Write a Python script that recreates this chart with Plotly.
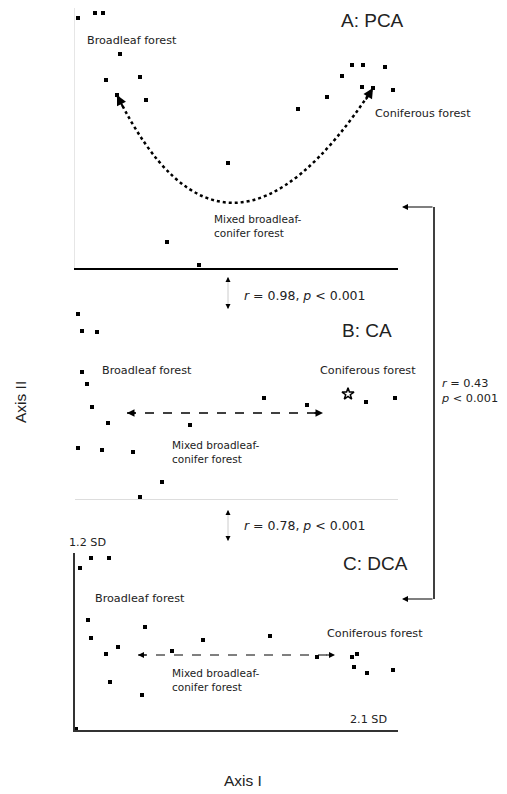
import plotly.graph_objects as go

W, H = 507, 794
OFF = 8  # page body margin in the browser

# ---- Data (ordination scores, arbitrary units) ----
pca_x = [3, 20, 28, 45, 31, 65, 42, 71, 153, 92, 124, 223, 252, 267, 277, 288, 310, 287, 298, 318]
pca_y = [250, 255, 255, 214, 188, 191, 173, 168, 105, 26, 3, 159, 171, 192, 203, 203, 201, 181, 180, 178]

ca_x = [3, 7, 22, 7, 12, 17, 33, 3, 27, 58, 87, 65, 115, 189, 232, 291, 320]
ca_y = [185, 168, 167, 127, 115, 92, 76, 51, 49, 47, 17, 2, 74, 101, 94, 97, 101]
ca_star_x = [273]
ca_star_y = [105]

dca_x = [5, 16, 34, 13, 16, 43, 31, 35, 67, 70, 97, 128, 195, 242, 277, 282, 279, 292, 318, 1]
dca_y = [162, 172, 172, 110, 92, 83, 76, 48, 35, 103, 79, 90, 94, 73, 73, 76, 63, 57, 60, 1]

# gradient arrows (start, control/end) in score units
pca_arc = [(42, 173), (150, -46), (298, 180)]
ca_arrow = [(52, 86), (248, 86)]
dca_arrow = [(63, 75), (260, 75)]

panel_titles = ["A: PCA", "B: CA", "C: DCA"]
stats = ["<i>r</i> = 0.98, <i>p</i> &lt; 0.001", "<i>r</i> = 0.78, <i>p</i> &lt; 0.001",
         "<i>r</i> = 0.43<br><i>p</i> &lt; 0.001"]

FONT = "Liberation Sans, Arial, sans-serif"
WIDE = "DejaVu Sans, sans-serif"
TXT = "#222"
LBL = 11.2

def px(x):
    return (x - OFF) / W

def py(y):
    return 1 - (y - OFF) / H

fig = go.Figure()

mk = dict(symbol="square", size=4, color="black")
fig.add_trace(go.Scatter(x=pca_x, y=pca_y, mode="markers", marker=mk, xaxis="x", yaxis="y", showlegend=False))
fig.add_trace(go.Scatter(x=ca_x, y=ca_y, mode="markers", marker=mk, xaxis="x2", yaxis="y2", showlegend=False))
fig.add_trace(go.Scatter(x=ca_star_x, y=ca_star_y, mode="markers",
                         marker=dict(symbol="star-open", size=9, color="black", line=dict(width=1.5)),
                         xaxis="x2", yaxis="y2", showlegend=False))
fig.add_trace(go.Scatter(x=dca_x, y=dca_y, mode="markers", marker=mk, xaxis="x3", yaxis="y3", showlegend=False))

xdom = [px(75), px(398)]
ax_common = dict(showgrid=False, zeroline=False, showticklabels=False, ticks="", fixedrange=True)
fig.update_layout(
    width=W, height=H, margin=dict(l=0, r=0, t=0, b=0),
    paper_bgcolor="white", plot_bgcolor="white",
    font=dict(family=FONT, color=TXT),
    xaxis=dict(domain=xdom, range=[0, 323], anchor="y", showline=True, linecolor="black", linewidth=1.5, **ax_common),
    yaxis=dict(domain=[py(268), py(8)], range=[0, 260], anchor="x", showline=True, linecolor="#e6e6e6", linewidth=1, **ax_common),
    xaxis2=dict(domain=xdom, range=[0, 323], anchor="y2", showline=True, linecolor="#dddddd", linewidth=1, **ax_common),
    yaxis2=dict(domain=[py(499), py(270)], range=[0, 229], anchor="x2", showline=False, **ax_common),
    xaxis3=dict(domain=xdom, range=[0, 323], anchor="y3", showline=True, linecolor="#333", linewidth=1.5, **ax_common),
    yaxis3=dict(domain=[py(730), py(553)], range=[0, 177], anchor="x3", showline=True, linecolor="#333", linewidth=1.5, **ax_common),
)

shapes = []
anns = []

def head(x, y, ax, ay, xref, yref, w=1.5):
    anns.append(dict(x=x, y=y, xref=xref, yref=yref, ax=ax, ay=ay, axref="pixel", ayref="pixel",
                     text="", showarrow=True, arrowhead=2, arrowsize=1, arrowwidth=w,
                     arrowcolor="black", standoff=0, startstandoff=0))

# PCA arc (dotted)
(p0, c, p2) = pca_arc
shapes.append(dict(type="path", xref="x", yref="y",
                   path=f"M {p0[0]},{p0[1]} Q {c[0]},{c[1]} {p2[0]},{p2[1]}",
                   line=dict(color="black", width=2.5, dash="dot")))
head(p0[0], p0[1], 7, 14, "x", "y", 2)
head(p2[0], p2[1], -8, 13, "x", "y", 2)

# CA arrow
shapes.append(dict(type="line", xref="x2", yref="y2", x0=ca_arrow[0][0], y0=ca_arrow[0][1],
                   x1=ca_arrow[1][0], y1=ca_arrow[1][1], line=dict(color="black", width=1.5, dash="dash")))
head(ca_arrow[0][0], ca_arrow[0][1], 10, 0, "x2", "y2")
head(ca_arrow[1][0], ca_arrow[1][1], -10, 0, "x2", "y2")

# DCA arrow
shapes.append(dict(type="line", xref="x3", yref="y3", x0=dca_arrow[0][0], y0=dca_arrow[0][1],
                   x1=dca_arrow[1][0], y1=dca_arrow[1][1], line=dict(color="black", width=1, dash="dash")))
head(dca_arrow[0][0], dca_arrow[0][1], 10, 0, "x3", "y3", 1.2)
head(dca_arrow[1][0], dca_arrow[1][1], -10, 0, "x3", "y3", 1.2)

def txt(x, y, s, xref, yref, size=LBL, xanchor="left", family=WIDE, color=TXT):
    anns.append(dict(x=x, y=y, xref=xref, yref=yref, text=s, showarrow=False,
                     xanchor=xanchor, yanchor="middle", align="left",
                     font=dict(size=size, family=family, color=color)))

# Panel titles
txt(297, 248, panel_titles[0], "x", "y", 19, "center", FONT)
txt(292, 169, panel_titles[1], "x2", "y2", 19, "center", FONT)
txt(300, 167, panel_titles[2], "x3", "y3", 19, "center", FONT)

# Forest labels
txt(10, 228, "Broadleaf forest", "x", "y")
txt(298, 155, "Coniferous forest", "x", "y")
txt(137, 42, "Mixed broadleaf-<br>conifer forest", "x", "y", 10.5)

txt(25, 129, "Broadleaf forest", "x2", "y2")
txt(243, 129, "Coniferous forest", "x2", "y2")
txt(95, 47, "Mixed broadleaf-<br>conifer forest", "x2", "y2", 10.5)

txt(18, 132, "Broadleaf forest", "x3", "y3")
txt(250, 97, "Coniferous forest", "x3", "y3")
txt(95, 50, "Mixed broadleaf-<br>conifer forest", "x3", "y3", 10.5)

txt(px(67), py(542), "1.2 SD", "paper", "paper")
txt(273, 11, "2.1 SD", "x3", "y3")

# Correlations between panels
for (ytop, ybot, ytext, s) in [(277, 309, 295, stats[0]), (510, 541, 525, stats[1])]:
    shapes.append(dict(type="line", xref="paper", yref="paper", x0=px(228), x1=px(228),
                       y0=py(ytop), y1=py(ybot), line=dict(color="#cccccc", width=1)))
    head(px(228), py(ytop), 0, 6, "paper", "paper", 1)
    head(px(228), py(ybot), 0, -6, "paper", "paper", 1)
    txt(px(242), py(ytext), s, "paper", "paper", 12.5)

# Right bracket A <-> C
shapes.append(dict(type="line", xref="paper", yref="paper", x0=px(434), x1=px(434),
                   y0=py(207), y1=py(599), line=dict(color="black", width=1.5)))
head(px(402), py(207), 32, 0, "paper", "paper", 1.2)
head(px(402), py(599), 32, 0, "paper", "paper", 1.2)
txt(px(439), py(391), stats[2], "paper", "paper", 11.3)

# Axis titles
anns.append(dict(x=px(20), y=py(402), xref="paper", yref="paper", text="Axis II", textangle=-90,
                 xanchor="center", yanchor="middle",
                 showarrow=False, font=dict(size=15.5, family=FONT, color=TXT)))
anns.append(dict(x=px(243), y=py(780), xref="paper", yref="paper", text="Axis I",
                 xanchor="center", yanchor="middle",
                 showarrow=False, font=dict(size=15.5, family=FONT, color=TXT)))

fig.update_layout(shapes=shapes, annotations=anns)
fig.write_html("out.html")
